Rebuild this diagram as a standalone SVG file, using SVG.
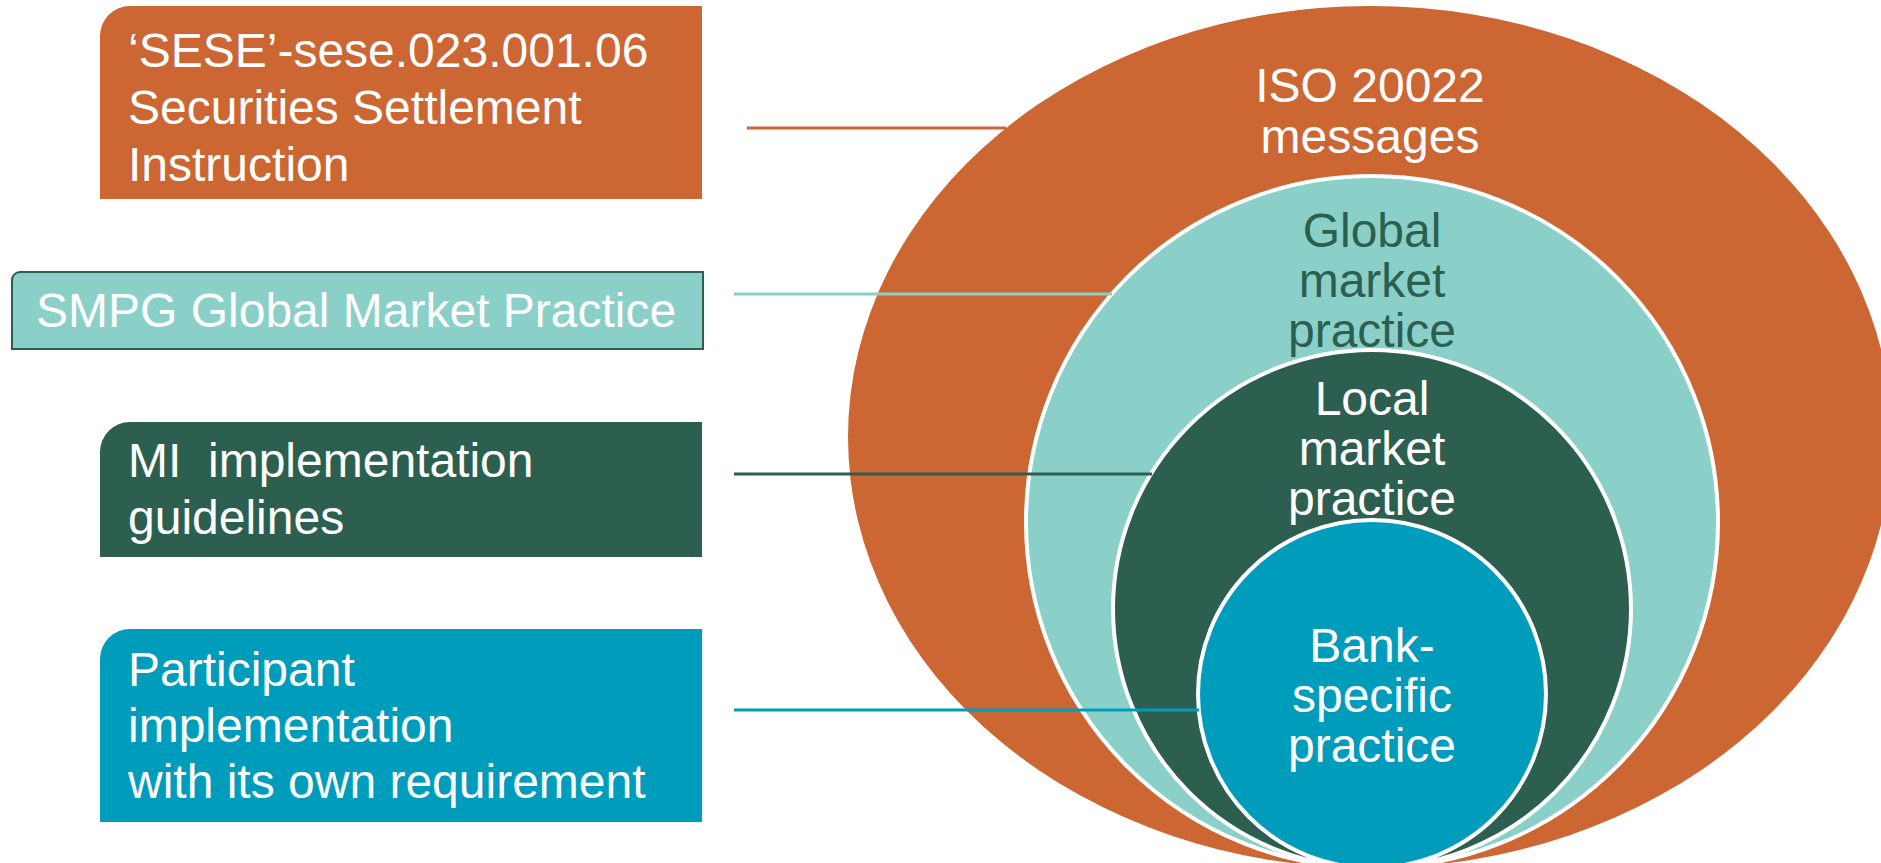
<svg xmlns="http://www.w3.org/2000/svg" width="1881" height="863" viewBox="0 0 1881 863">
<style>
  .t { font-family: "Liberation Sans", Arial, sans-serif; font-size: 48px; fill: #ffffff; white-space: pre; }
  .c { text-anchor: middle; }
  .dk { fill: #2C5F4F; }
  .ring { stroke: #ffffff; stroke-width: 4; }
  .ln { stroke-width: 3; fill: none; }
</style>
<rect x="0" y="0" width="1881" height="863" fill="#ffffff"/>

<g id="iso-messages">
  <ellipse cx="1370" cy="437" rx="522" ry="431" fill="#CC6633"/>
  <text class="t c" x="1370" y="102">ISO 20022</text>
  <text class="t c" x="1370" y="153">messages</text>
</g>
<g id="global-practice">
  <circle cx="1372" cy="522" r="346" fill="#8AD0C8" class="ring"/>
  <text class="t c dk" x="1372" y="247">Global</text>
  <text class="t c dk" x="1372" y="297">market</text>
  <text class="t c dk" x="1372" y="347">practice</text>
</g>
<g id="local-practice">
  <circle cx="1372" cy="609" r="259" fill="#2C5F4F" class="ring"/>
  <text class="t c" x="1372" y="415">Local</text>
  <text class="t c" x="1372" y="465">market</text>
  <text class="t c" x="1372" y="515">practice</text>
</g>
<g id="bank-practice">
  <circle cx="1372" cy="694" r="174" fill="#009CBC" class="ring"/>
  <text class="t c" x="1372" y="662">Bank-</text>
  <text class="t c" x="1372" y="712">specific</text>
  <text class="t c" x="1372" y="762">practice</text>
</g>

<g id="box-sese">
  <path d="M130,6 H702 V199 H100 V36 A30,30 0 0 1 130,6 Z" fill="#CC6633"/>
  <text class="t" x="128" y="67">‘SESE’-sese.023.001.06</text>
  <text class="t" x="128" y="124">Securities Settlement</text>
  <text class="t" x="128" y="181">Instruction</text>
</g>
<g id="box-smpg">
  <path d="M20,272 H703 V349 H12 V280 A8,8 0 0 1 20,272 Z" fill="#8AD0C8" stroke="#2C5F4F" stroke-width="2"/>
  <text class="t" x="36" y="327">SMPG Global Market Practice</text>
</g>
<g id="box-mi">
  <path d="M130,422 H702 V557 H100 V452 A30,30 0 0 1 130,422 Z" fill="#2C5F4F"/>
  <text class="t" x="128" y="477">MI  implementation</text>
  <text class="t" x="128" y="534">guidelines</text>
</g>
<g id="box-participant">
  <path d="M130,629 H702 V822 H100 V659 A30,30 0 0 1 130,629 Z" fill="#009CBC"/>
  <text class="t" x="128" y="686">Participant</text>
  <text class="t" x="128" y="742">implementation</text>
  <text class="t" x="128" y="798">with its own requirement</text>
</g>

<g id="connectors">
  <line class="ln" x1="747" y1="128" x2="1006" y2="128" stroke="#CC6633"/>
  <line class="ln" x1="734" y1="294" x2="1112" y2="294" stroke="#8AD0C8"/>
  <line class="ln" x1="734" y1="474" x2="1152" y2="474" stroke="#2C5F4F"/>
  <line class="ln" x1="734" y1="710" x2="1199" y2="710" stroke="#009CBC"/>
</g>
</svg>
